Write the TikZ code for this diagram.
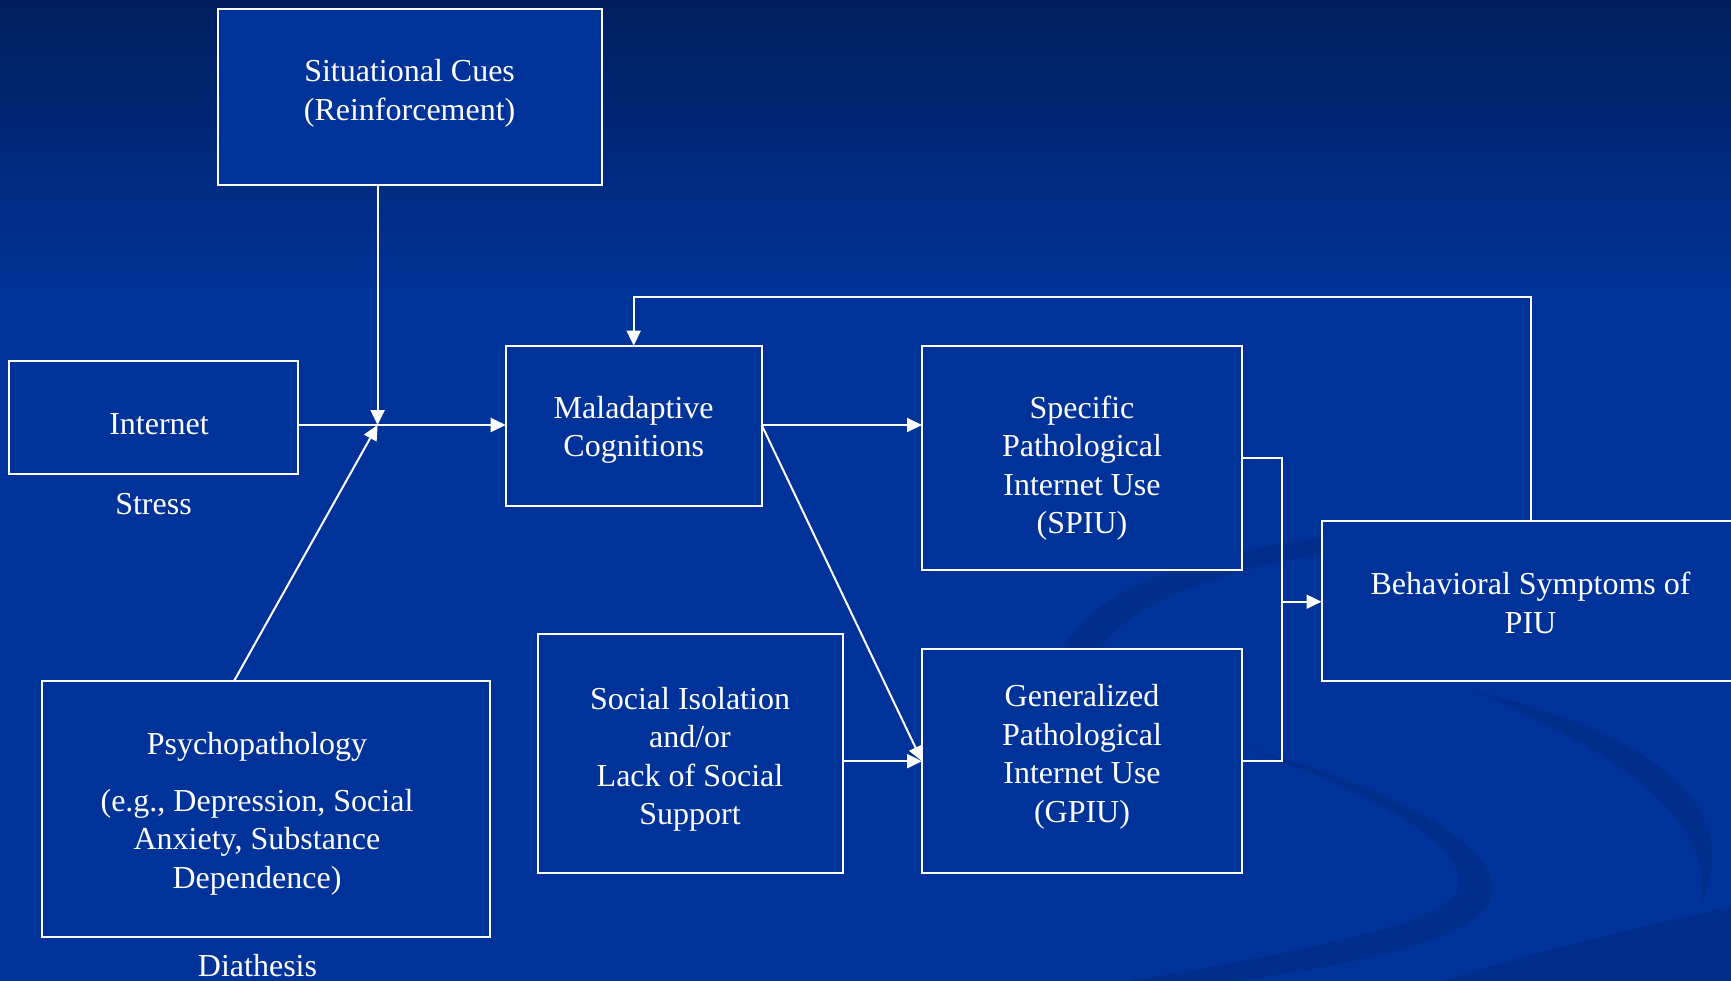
\documentclass[tikz,border=0pt]{standalone}
\usepackage{fontspec}
\setmainfont{Liberation Serif}
\usetikzlibrary{arrows.meta,calc}
\definecolor{bgblue}{RGB}{0,51,153}
\definecolor{bgtop}{RGB}{0,31,94}
\definecolor{swoosh}{RGB}{0,40,128}
\tikzset{
  box/.style={draw=white, line width=2pt, fill=bgblue, rectangle, inner sep=0pt, outer sep=0pt},
  txt/.style={text=white, align=center, inner sep=0pt, font=\fontsize{32}{38.5}\selectfont},
  conn/.style={draw=white, line width=2pt},
  arr/.style={conn, -{Triangle[length=15pt,width=14pt]}},
  sw/.style={fill=swoosh, opacity=0.45}
}
\begin{document}
\begin{tikzpicture}[x=1pt,y=-1pt]
\useasboundingbox (0,0) rectangle (1731,981);
% background
\fill[bgblue] (0,0) rectangle (1731,981);
\shade[top color=bgtop, bottom color=bgblue] (0,0) rectangle (1731,300);
\begin{scope}
\clip (0,0) rectangle (1731,981);
\fill[sw] (1062,650) .. controls (1090,590) and (1200,550) .. (1340,535)
  -- (1340,552) .. controls (1220,568) and (1125,605) .. (1100,650) -- cycle;
\fill[sw] (1244,747) .. controls (1400,790) and (1510,850) .. (1490,900)
  .. controls (1470,950) and (1300,975) .. (1120,995)
  -- (1050,995) .. controls (1250,960) and (1440,930) .. (1458,890)
  .. controls (1470,850) and (1390,800) .. (1244,747) -- cycle;
\fill[sw] (1470,690) .. controls (1640,730) and (1750,800) .. (1700,905)
  .. controls (1715,830) and (1640,760) .. (1470,690) -- cycle;
\fill[sw] (1400,995) .. controls (1500,960) and (1620,930) .. (1740,905)
  -- (1740,995) -- cycle;
\end{scope}
% boxes
\node[box, minimum width=384pt, minimum height=176pt] (sit) at (409.6,96.6) {};
\node[box, minimum width=289pt, minimum height=112.6pt] (inet) at (153.4,417.3) {};
\node[box, minimum width=256pt, minimum height=160pt] (mal) at (633.7,425.6) {};
\node[box, minimum width=320pt, minimum height=224pt] (spiu) at (1082,457.6) {};
\node[box, minimum width=320pt, minimum height=224pt] (gpiu) at (1082,761.2) {};
\node[box, minimum width=305pt, minimum height=239.6pt] (soc) at (690,753.5) {};
\node[box, minimum width=448pt, minimum height=256.3pt] (psy) at (266,809.2) {};
\node[box, minimum width=418pt, minimum height=160pt] (beh) at (1530.5,601) {};
% texts
\node[txt] (sit-t) at (409.6,93.3) {Situational Cues\\(Reinforcement)};
\node[txt] (inet-t) at (159,424) {Internet};
\node[txt] (mal-t) at (633.7,430) {Maladaptive\\Cognitions};
\node[txt] (spiu-t) at (1082,468) {Specific\\Pathological\\Internet Use\\(SPIU)};
\node[txt] (gpiu-t) at (1082,756.8) {Generalized\\Pathological\\Internet Use\\(GPIU)};
\node[txt] (soc-t) at (690,759.5) {Social Isolation\\and/or\\Lack of Social\\Support};
\node[txt] (psy-t) at (257,814) {Psychopathology\\[18pt](e.g., Depression, Social\\Anxiety, Substance\\Dependence)};
\node[txt] (beh-t) at (1530.5,603) {Behavioral Symptoms of\\PIU};
\node[txt] (stress) at (153.5,504.5) {Stress};
\node[txt] (diath) at (257.5,966) {Diathesis};
% connectors
\coordinate (J) at (377.6,425);
\coordinate (bus) at (1281.7,601.7);
\coordinate (top) at (1530,297);
\draw[arr] (J |- sit.south) -- (J);
\draw[arr] (inet.east |- J) -- (mal.west |- J);
\draw[arr] ($(psy.north west)!0.4286!(psy.north east)$) -- (J);
\draw[arr] (mal.east |- J) -- (J -| spiu.west);
\draw[arr] (mal.east |- J) -- (gpiu.west);
\draw[arr] (soc.east |- gpiu.west) -- (gpiu.west);
\draw[conn] (spiu.east) -| (bus) |- (gpiu.east);
\draw[arr] (bus) -- (bus -| beh.west);
\draw[arr] (beh.north) -- (beh.north |- top) -| (mal.north);
\end{tikzpicture}
\end{document}
